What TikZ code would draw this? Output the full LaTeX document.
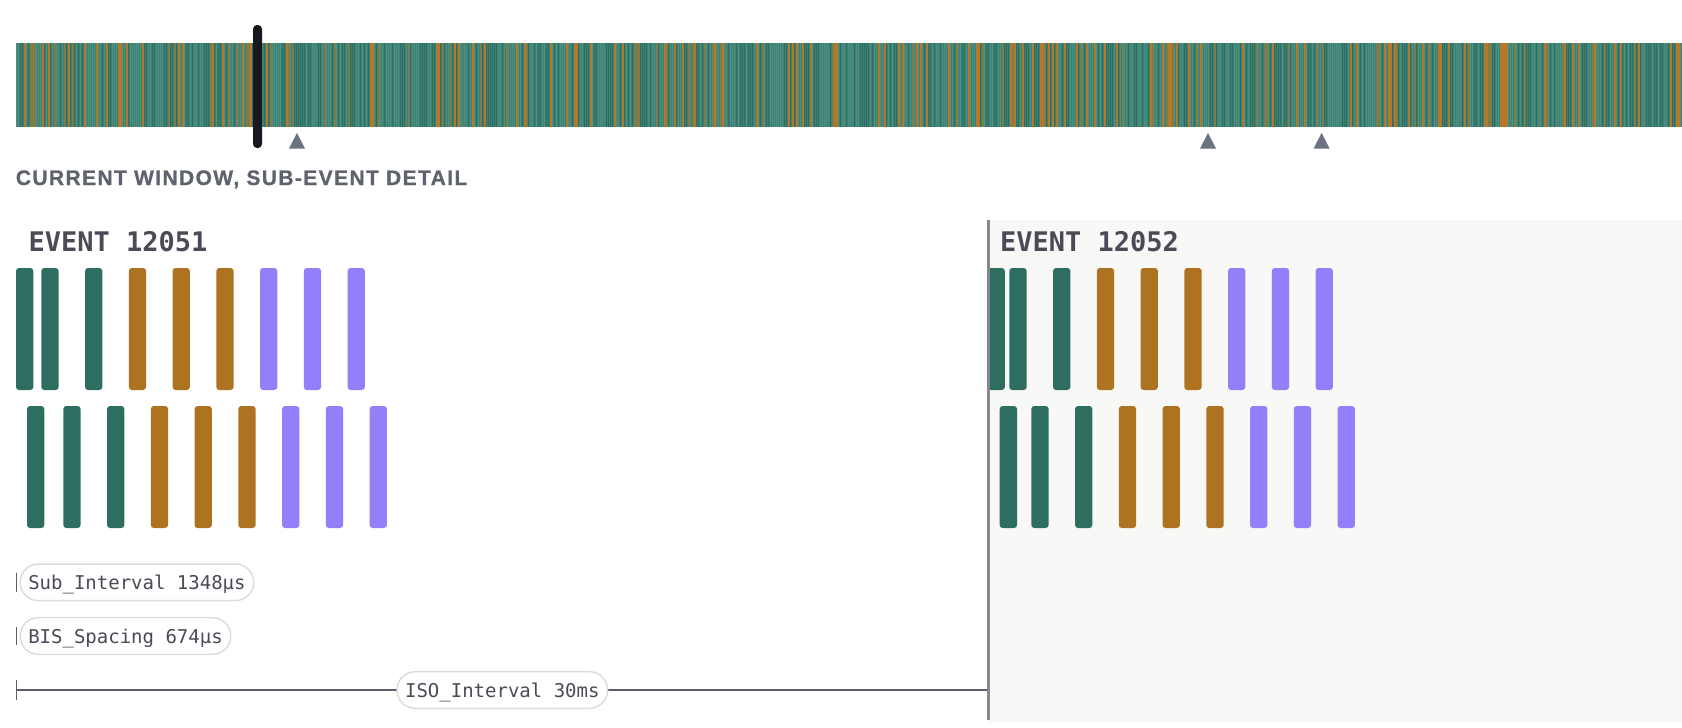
\documentclass[tikz,border=0pt]{standalone}
\usepackage{fontspec}
\setmainfont{Liberation Sans}
\newfontfamily\evmono{DejaVu Sans Mono}
\newfontfamily\capsfont{Liberation Sans}[LetterSpace=6.6,BoldFeatures={FakeBold=0.8}]
\definecolor{stripteal}{HTML}{3D8174}
\definecolor{stripdark}{HTML}{2E6D61}
\definecolor{striplight}{HTML}{4D9082}
\definecolor{stripamber}{HTML}{B5782A}
\definecolor{evgreen}{HTML}{2D6E61}
\definecolor{evamber}{HTML}{AE7321}
\definecolor{evviolet}{HTML}{9180F9}
\definecolor{inkgray}{HTML}{4A4B57}
\definecolor{capgray}{HTML}{5F636E}
\definecolor{rulegray}{HTML}{5C5F6B}
\definecolor{pillrim}{HTML}{DDDDD8}
\definecolor{panelbg}{HTML}{F8F8F6}
\definecolor{divgray}{HTML}{86878E}
\definecolor{markgray}{HTML}{6B7280}
\definecolor{cursorink}{HTML}{16191D}
\begin{document}
\begin{tikzpicture}[x=1pt,y=-1pt,
  bar/.style={rounded corners=3pt},
  pill/.style={draw=pillrim,line width=1.5pt,fill=white,rounded corners=18pt,
    minimum height=36.6pt,inner xsep=8pt,inner ysep=0pt,text height=14pt,text depth=0pt,
    text=inkgray,font=\evmono\fontsize{19}{19}\selectfont},
  evtitle/.style={anchor=base west,inner sep=0pt,text=inkgray,
    font=\evmono\bfseries\fontsize{27}{27}\selectfont}]
\useasboundingbox (0,0) rectangle (1682,728);

\fill[stripteal] (16,43) rectangle (1682,127);
\pgfmathsetseed{12051}
\foreach \i in {0,...,832}{
  \pgfmathrandominteger{\r}{0}{99}
  \ifnum\r<14 \fill[stripamber] (16+2*\i,43) rectangle ++(1.9,84);
  \else\ifnum\r<22 \fill[stripamber!55!stripteal] (16+2*\i,43) rectangle ++(1.5,84);
  \else\ifnum\r<60 \fill[stripdark] (16+2*\i,43) rectangle ++(1,84);
  \else \fill[striplight] (16+2*\i,43) rectangle ++(1,84); \fi\fi\fi
}
\fill[cursorink,rounded corners=4pt] (253,25) rectangle (262,148);
\foreach \m in {297,1208,1321.6}
  \fill[markgray] (\m,133) -- (\m+8,148.5) -- (\m-8,148.5) -- cycle;

\node[anchor=base west,inner sep=0pt,text=capgray,font=\capsfont\bfseries\fontsize{21}{21}\selectfont]
  (wintitle) at (15.7,185) {CURRENT WINDOW, SUB-EVENT DETAIL};

\fill[panelbg] (989,220) rectangle (1682,723);

\node[evtitle] (ev1) at (28.5,251) {EVENT 12051};
\node[evtitle] (ev2) at (1000,251) {EVENT 12052};

\foreach \ox/\fa/\fb in {0/16/27,968/987.5/999.7}{
  \fill[evgreen,bar] (\fa,268) rectangle ++(17.3,122);
  \fill[evgreen,bar] (\fb,406) rectangle ++(17.3,122);
  \foreach \k/\c in {1/evgreen,2/evgreen,3/evamber,4/evamber,5/evamber,6/evviolet,7/evviolet,8/evviolet}{
    \fill[\c,bar] (\ox+41.3+43.75*\k-43.75,268) rectangle ++(17.3,122);
    \fill[\c,bar] (\ox+63.3+43.75*\k-43.75,406) rectangle ++(17.3,122);
  }
}

\coordinate (iso0) at (16.6,690);
\coordinate (iso1) at (988,690);
\draw[rulegray,line width=0.8pt] (16.6,572.7) -- (16.6,591.7);
\node[pill,anchor=west] (subiv) at (19.5,582.3) {Sub\_Interval 1348µs};
\draw[rulegray,line width=0.8pt] (16.6,626.7) -- (16.6,645);
\node[pill,anchor=west] (bisgap) at (19.5,636) {BIS\_Spacing 674µs};
\draw[rulegray,line width=0.8pt] (16.6,680) -- (16.6,700);
\draw[rulegray,line width=2pt] (iso0) -- node[pill] (isoiv) {ISO\_Interval 30ms} (iso1);

\draw[divgray,line width=3pt] (988,220) -- (988,720);
\end{tikzpicture}
\end{document}
